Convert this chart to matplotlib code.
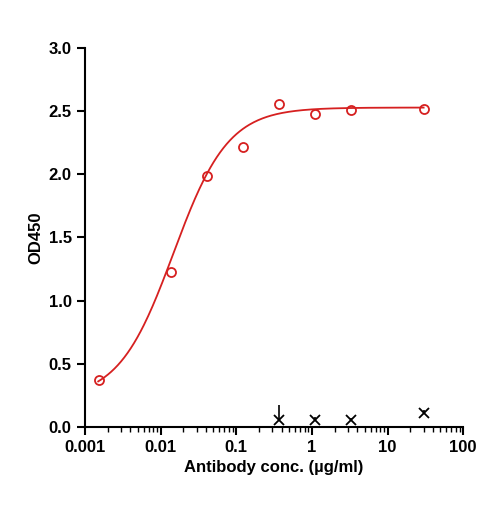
import numpy as np
import matplotlib
matplotlib.use("Agg")
import matplotlib.pyplot as plt

conc = [0.00152, 0.0137, 0.041, 0.123, 0.37, 1.11, 3.33, 30]
od = [0.37, 1.23, 1.99, 2.22, 2.56, 2.48, 2.51, 2.52]
ctrl_conc = [0.37, 1.11, 3.33, 30]
ctrl_od = [0.05, 0.05, 0.05, 0.11]
ctrl_err = [0.12, 0.03, 0.02, 0.02]
# 4PL fit parameters (bottom, top, ec50, hill)
fit = [0.22, 2.53, 0.0148, 1.2]

plt.rcParams['font.family'] = ['Liberation Sans', 'DejaVu Sans']
fig = plt.figure(figsize=(4.85, 5.08), dpi=100)
ax = fig.add_axes([0.175, 0.16, 0.78, 0.745])
xs = np.logspace(np.log10(0.0015), np.log10(30), 300)
b, t, e, h = fit
ax.plot(xs, b + (t - b) / (1 + (e / xs) ** h), color='#d62020', lw=1.3)
ax.plot(conc, od, 'o', mfc='none', mec='#d62020', mew=1.3, ms=6.5)
ax.errorbar(ctrl_conc, ctrl_od, yerr=[[0]*4, ctrl_err], fmt='x', color='black', ms=7, mew=1.3, elinewidth=1.2, capsize=0)
ax.set_xscale('log')
ax.set_xlim(0.001, 100)
ax.set_ylim(0, 3.0)
ax.set_yticks(np.arange(0, 3.01, 0.5))
ax.set_xticks([0.001, 0.01, 0.1, 1, 10, 100])
ax.set_xticklabels(['0.001', '0.01', '0.1', '1', '10', '100'])
for s in ['top', 'right']:
    ax.spines[s].set_visible(False)
for s in ['left', 'bottom']:
    ax.spines[s].set_linewidth(1.5)
ax.tick_params(width=1.5, length=6, labelsize=12)
ax.tick_params(which='minor', width=1.0, length=3.5)
for lab in ax.get_xticklabels() + ax.get_yticklabels():
    lab.set_fontweight('bold')
ax.set_xlabel('Antibody conc. (µg/ml)', fontsize=12, fontweight='bold')
ax.set_ylabel('OD450', fontsize=12, fontweight='bold')
fig.savefig('out.png', dpi=100)
